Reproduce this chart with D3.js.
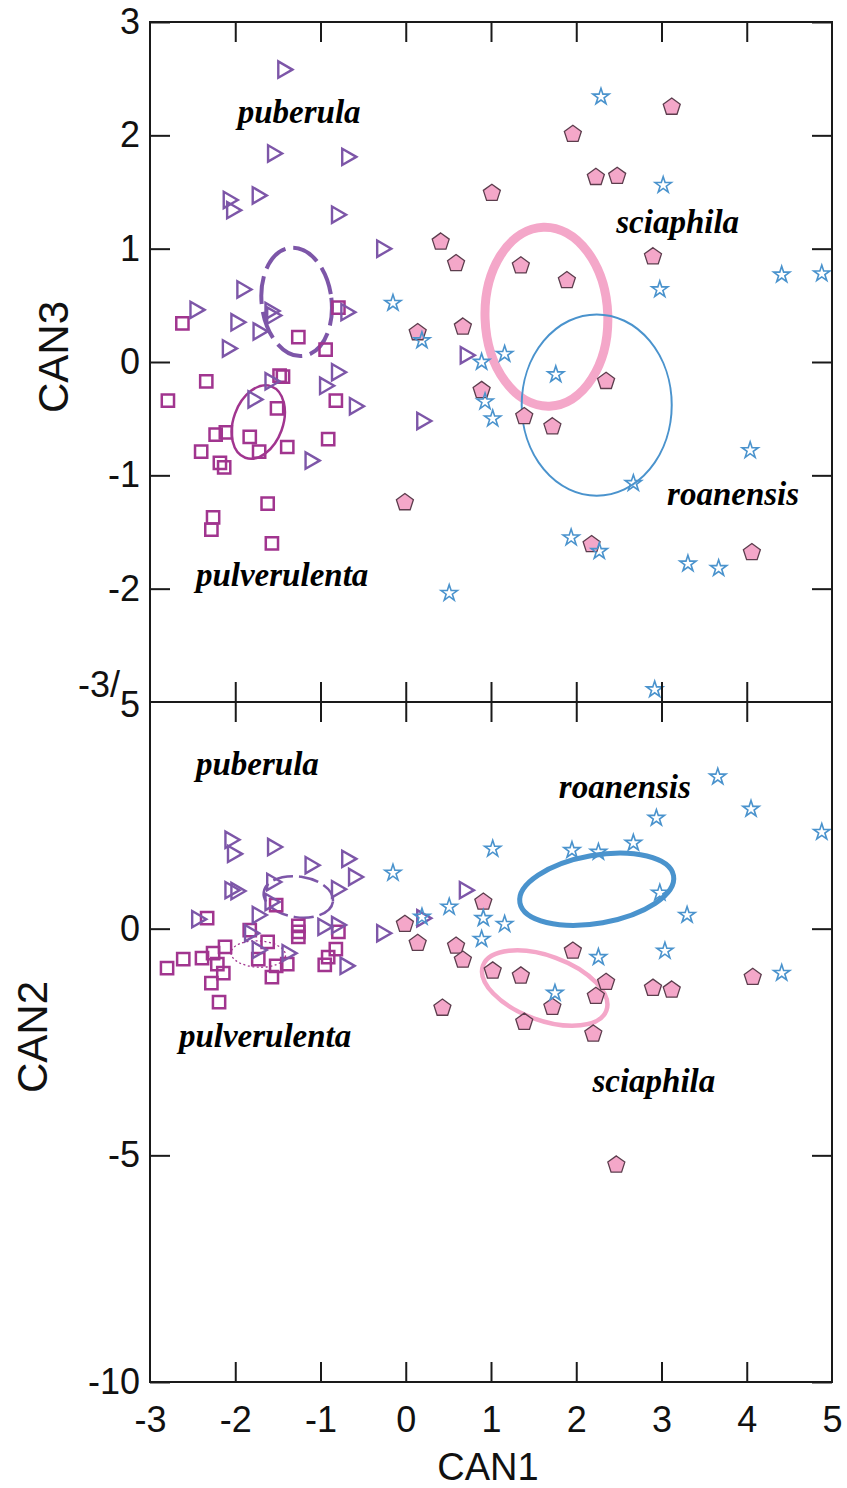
<!DOCTYPE html>
<html>
<head>
<meta charset="utf-8">
<script src="https://cdn.jsdelivr.net/npm/d3@7"></script>
<style>
    body { margin: 0; background: #fff; }
    svg { display: block; }
    .tick text { font-family: "Liberation Sans", Arial, sans-serif; font-size: 36px; fill: #111; }
    .tick line { stroke: #1a1a1a; stroke-width: 2; }
    .axisTitle { font-family: "Liberation Sans", Arial, sans-serif; fill: #111; }
    .species { font-family: "Liberation Serif", "Times New Roman", serif; font-weight: bold; font-style: italic; font-size: 33px; fill: #000; }
</style>
</head>
<body>
<svg id="chart" width="847" height="1488"></svg>
<script>
// ---- Data: [CAN1, CAN3] for the upper panel, [CAN1, CAN2] for the lower one ----
const puberulaTop = [
    [-1.44, 2.58], [-1.56, 1.84], [-0.69, 1.81], [-2.08, 1.43], [-2.04, 1.34], [-1.74, 1.47],
    [-0.81, 1.30], [-0.28, 1.00], [-1.92, 0.64], [-2.47, 0.46], [-1.99, 0.35], [-1.59, 0.45],
    [-1.57, 0.41], [-1.73, 0.27], [-2.09, 0.12], [-0.70, 0.44], [-0.81, -0.09], [-0.95, -0.21],
    [-0.60, -0.39], [-1.79, -0.33], [-1.59, -0.17], [-1.12, -0.87], [0.19, -0.52], [0.70, 0.06]
];
const pulverulentaTop = [
    [-2.62, 0.34], [-1.26, 0.22], [-0.94, 0.11], [-0.79, 0.48], [-2.34, -0.17], [-2.79, -0.34],
    [-1.48, -0.12], [-1.44, -0.13], [-0.82, -0.34], [-1.51, -0.41], [-2.23, -0.64], [-2.11, -0.62],
    [-2.40, -0.79], [-1.83, -0.66], [-1.72, -0.79], [-1.39, -0.75], [-0.91, -0.68], [-2.18, -0.89],
    [-2.13, -0.93], [-1.62, -1.25], [-2.26, -1.37], [-2.28, -1.48], [-1.57, -1.60]
];
const sciaphilaTop = [
    [3.12, 2.25], [1.96, 2.01], [2.23, 1.63], [2.48, 1.64], [1.01, 1.49], [0.41, 1.06],
    [0.59, 0.87], [1.35, 0.85], [1.89, 0.72], [2.90, 0.93], [0.14, 0.26], [0.67, 0.31],
    [0.89, -0.25], [2.35, -0.17], [1.39, -0.48], [1.72, -0.57], [-0.01, -1.24], [2.18, -1.61],
    [4.06, -1.68]
];
const roanensisTop = [
    [2.29, 2.34], [3.02, 1.56], [2.98, 0.64], [4.41, 0.77], [4.88, 0.78], [-0.15, 0.52],
    [0.19, 0.19], [0.89, 0.00], [1.16, 0.07], [1.76, -0.11], [0.93, -0.35], [1.02, -0.50],
    [2.67, -1.07], [4.04, -0.78], [1.94, -1.55], [2.27, -1.67], [3.31, -1.78], [3.67, -1.82],
    [0.51, -2.04], [2.92, -2.89]
];

const puberulaBot = [
    [-2.06, 1.96], [-2.03, 1.65], [-1.56, 1.80], [-1.12, 1.40], [-0.69, 1.54], [-0.61, 1.14],
    [-2.06, 0.85], [-1.99, 0.83], [-1.57, 1.03], [-0.81, 0.87], [-1.59, 0.59], [-2.45, 0.21],
    [-1.74, 0.30], [-1.83, -0.10], [-0.97, 0.04], [-0.81, 0.08], [-0.28, -0.10], [-1.39, -0.54],
    [-1.74, -0.47], [-0.71, -0.82], [0.69, 0.85], [0.19, 0.23]
];
const pulverulentaBot = [
    [-2.33, 0.23], [-1.52, 0.52], [-1.83, -0.03], [-1.26, 0.06], [-1.26, -0.07], [-1.26, -0.18],
    [-0.79, -0.07], [-1.62, -0.29], [-2.12, -0.40], [-2.26, -0.54], [-2.39, -0.65], [-2.61, -0.67],
    [-2.80, -0.87], [-2.21, -0.78], [-2.14, -0.98], [-2.28, -1.20], [-2.19, -1.62], [-1.73, -0.67],
    [-1.52, -0.82], [-1.39, -0.78], [-1.57, -1.07], [-0.82, -0.45], [-0.91, -0.63], [-0.95, -0.80]
];
const sciaphilaBot = [
    [0.91, 0.59], [-0.01, 0.10], [0.14, -0.32], [0.59, -0.38], [0.67, -0.69], [1.96, -0.49],
    [1.02, -0.93], [1.35, -1.04], [2.35, -1.18], [2.23, -1.49], [1.72, -1.73], [1.39, -2.06],
    [2.20, -2.32], [0.43, -1.75], [2.90, -1.31], [3.12, -1.35], [4.07, -1.07], [2.47, -5.21]
];
const roanensisBot = [
    [3.66, 3.35], [4.05, 2.64], [4.88, 2.13], [2.94, 2.44], [2.67, 1.89], [1.95, 1.73],
    [2.26, 1.69], [1.02, 1.76], [-0.15, 1.23], [0.51, 0.48], [0.19, 0.26], [0.91, 0.23],
    [1.16, 0.10], [0.89, -0.23], [2.98, 0.79], [3.30, 0.30], [3.04, -0.49], [2.26, -0.63],
    [1.75, -1.42], [4.41, -0.98]
];

// Group ellipses: centre and semi-axes in CAN units, tilt in degrees
const ellipsesTop = [
    { species: "puberula", cx: -1.28, cy: 0.53, rx: 0.41, ry: 0.48, angle: -7 },
    { species: "pulverulenta", cx: -1.73, cy: -0.53, rx: 0.29, ry: 0.335, angle: 20 },
    { species: "sciaphila", cx: 1.65, cy: 0.40, rx: 0.72, ry: 0.79, angle: -2 },
    { species: "roanensis", cx: 2.24, cy: -0.38, rx: 0.88, ry: 0.80, angle: 0 }
];
const ellipsesBot = [
    { species: "puberula", cx: -1.26, cy: 0.70, rx: 0.41, ry: 0.45, angle: 8 },
    { species: "pulverulenta", cx: -1.73, cy: -0.56, rx: 0.32, ry: 0.29, angle: 3 },
    { species: "roanensis", cx: 2.24, cy: 0.87, rx: 0.915, ry: 0.75, angle: -10 },
    { species: "sciaphila", cx: 1.63, cy: -1.31, rx: 0.77, ry: 0.71, angle: 20 }
];

// Species name labels (centre of the text, CAN units)
const labelsTop = [
    ["puberula", -1.25, 2.20], ["sciaphila", 3.19, 1.23],
    ["roanensis", 3.84, -1.17], ["pulverulenta", -1.45, -1.89]
];
const labelsBot = [
    ["puberula", -1.74, 3.61], ["roanensis", 2.57, 3.10],
    ["pulverulenta", -1.65, -2.39], ["sciaphila", 2.91, -3.38]
];

const xTicks = [-3, -2, -1, 0, 1, 2, 3, 4, 5];
const yTopTicks = [-2, -1, 0, 1, 2, 3];
const yBotTicks = [-10, -5, 0];

// ---- Styles ----
const COLORS = {
    puberula: "#7d56a8",
    pulverulenta: "#a1358f",
    sciaphila: "#f4a7c9",
    roanensis: "#4a93cd",
    pentagonEdge: "#5c3d4d",
    frame: "#1a1a1a"
};

const ellipseStyleTop = {
    puberula: { width: 4, dash: "28 8" },
    pulverulenta: { width: 2.5, dash: null },
    sciaphila: { width: 9, dash: null },
    roanensis: { width: 2, dash: null }
};
const ellipseStyleBot = {
    puberula: { width: 2.5, dash: "20 6" },
    pulverulenta: { width: 1.3, dash: "2 2.5" },
    sciaphila: { width: 4.5, dash: null },
    roanensis: { width: 5, dash: null }
};

// Custom symbol types
const symbolTriangleRight = {
    draw(context, size) {
        const a = Math.sqrt(4 * size / Math.sqrt(3));
        const h = a * Math.sqrt(3) / 2;
        context.moveTo(2 * h / 3, 0);
        context.lineTo(-h / 3, a / 2);
        context.lineTo(-h / 3, -a / 2);
        context.closePath();
    }
};
const symbolPentagon = {
    draw(context, size) {
        const r = Math.sqrt(size / (2.5 * Math.sin(2 * Math.PI / 5)));
        for (let i = 0; i < 5; i++) {
            const t = -Math.PI / 2 + i * 2 * Math.PI / 5;
            if (i === 0) context.moveTo(r * Math.cos(t), r * Math.sin(t));
            else context.lineTo(r * Math.cos(t), r * Math.sin(t));
        }
        context.closePath();
    }
};

const markers = {
    pulverulenta: { type: d3.symbolSquare, size: 150, fill: "none", stroke: COLORS.pulverulenta, width: 2.5 },
    puberula: { type: symbolTriangleRight, size: 115, fill: "none", stroke: COLORS.puberula, width: 2.4 },
    sciaphila: { type: symbolPentagon, size: 190, fill: COLORS.sciaphila, stroke: COLORS.pentagonEdge, width: 1.3 },
    roanensis: { type: d3.symbolStar, size: 82, fill: "none", stroke: COLORS.roanensis, width: 1.6 }
};

// ---- Scales ----
const left = 150, right = 832;
const x = d3.scaleLinear().domain([-3, 5]).range([left, right]);
const yTop = d3.scaleLinear().domain([-3, 3]).range([702, 22]);
const yBot = d3.scaleLinear().domain([-10, 5]).range([1382, 702]);

const svg = d3.select("#chart");
const fmt = d => String(d);

const panels = [
    {
        y: yTop, yTicks: yTopTicks, ellipses: ellipsesTop, ellipseStyle: ellipseStyleTop, labels: labelsTop,
        points: { pulverulenta: pulverulentaTop, puberula: puberulaTop, sciaphila: sciaphilaTop, roanensis: roanensisTop }
    },
    {
        y: yBot, yTicks: yBotTicks, ellipses: ellipsesBot, ellipseStyle: ellipseStyleBot, labels: labelsBot,
        points: { pulverulenta: pulverulentaBot, puberula: puberulaBot, sciaphila: sciaphilaBot, roanensis: roanensisBot }
    }
];

panels.forEach((p, pi) => {
    const g = svg.append("g").attr("class", "panel-" + pi);
    const y = p.y;

    // Ellipses
    g.selectAll(".groupEllipse")
        .data(p.ellipses)
        .enter()
        .append("ellipse")
        .attr("class", "groupEllipse")
        .attr("cx", d => x(d.cx))
        .attr("cy", d => y(d.cy))
        .attr("rx", d => x(d.cx + d.rx) - x(d.cx))
        .attr("ry", d => y(d.cy) - y(d.cy + d.ry))
        .attr("transform", d => `rotate(${d.angle},${x(d.cx)},${y(d.cy)})`)
        .attr("fill", "none")
        .attr("stroke", d => COLORS[d.species])
        .attr("stroke-width", d => p.ellipseStyle[d.species].width)
        .attr("stroke-dasharray", d => p.ellipseStyle[d.species].dash);

    // Points
    Object.keys(p.points).forEach(sp => {
        const m = markers[sp];
        g.selectAll(".pt-" + sp)
            .data(p.points[sp])
            .enter()
            .append("path")
            .attr("class", "pt-" + sp)
            .attr("d", d3.symbol(m.type, m.size))
            .attr("transform", d => `translate(${x(d[0])},${y(d[1])})`)
            .attr("fill", m.fill)
            .attr("stroke", m.stroke)
            .attr("stroke-width", m.width)
            .attr("stroke-linejoin", "miter");
    });

    // Species labels
    g.selectAll(".species")
        .data(p.labels)
        .enter()
        .append("text")
        .attr("class", "species")
        .attr("x", d => x(d[1]))
        .attr("y", d => y(d[2]))
        .attr("dy", "0.3em")
        .attr("text-anchor", "middle")
        .text(d => d[0]);

    // Y axis (left, ticks inward) and right ticks
    const yAxis = g.append("g")
        .attr("transform", `translate(${left},0)`)
        .call(d3.axisLeft(y).tickValues(p.yTicks).tickSize(-20).tickPadding(10).tickFormat(fmt));
    yAxis.select(".domain").remove();

    const yAxisR = g.append("g")
        .attr("transform", `translate(${right},0)`)
        .call(d3.axisRight(y).tickValues(p.yTicks).tickSize(-20).tickFormat(""));
    yAxisR.select(".domain").remove();

    // Frame
    g.append("rect")
        .attr("x", left)
        .attr("y", y.range()[1])
        .attr("width", right - left)
        .attr("height", y.range()[0] - y.range()[1])
        .attr("fill", "none")
        .attr("stroke", COLORS.frame)
        .attr("stroke-width", 2);
});

// X ticks: top edge, the shared middle line and the bottom axis
const innerX = xTicks.slice(1, -1);
svg.append("g")
    .attr("transform", `translate(0,${yTop(3)})`)
    .call(d3.axisTop(x).tickValues(innerX).tickSize(-20).tickFormat(""))
    .select(".domain").remove();

svg.append("g")
    .attr("transform", `translate(0,${yTop(-3) - 20})`)
    .call(d3.axisBottom(x).tickValues(innerX).tickSize(40).tickFormat(""))
    .select(".domain").remove();

const xAxis = svg.append("g")
    .attr("transform", `translate(0,${yBot(-10)})`)
    .call(d3.axisBottom(x).tickValues(xTicks).tickSize(-20).tickPadding(24).tickFormat(fmt));
xAxis.select(".domain").remove();
xAxis.selectAll(".tick").filter(d => d === -3 || d === 5).select("line").remove();

// Shared corner label where the panels meet
svg.append("text")
    .attr("class", "axisTitle")
    .attr("x", 120)
    .attr("y", 684)
    .attr("dy", "0.35em")
    .attr("text-anchor", "end")
    .attr("font-size", 36)
    .text("-3/");
svg.append("text")
    .attr("class", "axisTitle")
    .attr("x", 140)
    .attr("y", 704)
    .attr("dy", "0.35em")
    .attr("text-anchor", "end")
    .attr("font-size", 36)
    .text("5");

// Axis titles
svg.append("text")
    .attr("class", "axisTitle")
    .attr("transform", `translate(53,${yTop(0) - 5}) rotate(-90)`)
    .attr("dy", "0.35em")
    .attr("text-anchor", "middle")
    .attr("font-size", 42)
    .text("CAN3");
svg.append("text")
    .attr("class", "axisTitle")
    .attr("transform", "translate(32,1037) rotate(-90)")
    .attr("dy", "0.35em")
    .attr("text-anchor", "middle")
    .attr("font-size", 42)
    .text("CAN2");
svg.append("text")
    .attr("class", "axisTitle")
    .attr("x", x(1) - 3)
    .attr("y", 1480)
    .attr("text-anchor", "middle")
    .attr("font-size", 38)
    .text("CAN1");
</script>
</body>
</html>
